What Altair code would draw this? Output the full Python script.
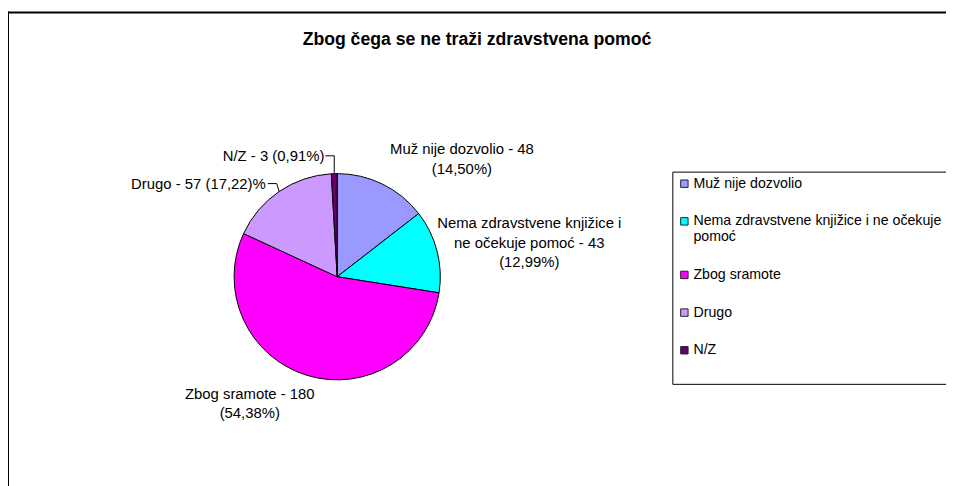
import altair as alt
import pandas as pd

# ---- data -------------------------------------------------------------
categories = [
    "Muž nije dozvolio",
    "Nema zdravstvene knjižice i ne očekuje pomoć",
    "Zbog sramote",
    "Drugo",
    "N/Z",
]
counts = [48, 43, 180, 57, 3]
label_texts = [
    "Muž nije dozvolio - 48\n(14,50%)",
    "Nema zdravstvene knjižice i\nne očekuje pomoć - 43\n(12,99%)",
    "Zbog sramote - 180\n(54,38%)",
    "Drugo - 57 (17,22)%",
    "N/Z - 3 (0,91%)",
]
colors = ["#9999FF", "#00FFFF", "#FF00FF", "#CC99FF", "#660066"]
title_text = "Zbog čega se ne traži zdravstvena pomoć"

df = pd.DataFrame({"cat": categories, "value": counts, "label": label_texts,
                   "idx": list(range(len(categories)))})
TOTAL = sum(counts)

# ---- layout (style only) ---------------------------------------------
FONT = "Liberation Sans"
FS = 15
CX, CY, R = 332, 269, 104
label_layout = {  # dx, dy (first line), align relative to slice edge at mid-angle
    "Muž nije dozvolio": (80, -35, "center"),
    "Nema zdravstvene knjižice i ne očekuje pomoć": (93, -28, "center"),
    "Zbog sramote": (-58, 18.5, "center"),
    "Drugo": (-13.5, -8, "right"),
    "N/Z": (-10, -18, "right"),
}
leader_layout = {  # elbow dx, elbow dy, end dx
    "Drugo": (-2.4, -8, -11.4),
    "N/Z": (0, -18, -9),
}

base = (
    alt.Chart(df)
    .transform_window(cum="sum(value)", sort=[alt.SortField("idx")], frame=[None, 0])
    .transform_calculate(mid="datum.cum - datum.value / 2")
    .transform_calculate(ang=f"datum.mid / {TOTAL} * 2 * PI")
    .transform_calculate(ex=f"{CX} + {R} * sin(datum.ang)",
                         ey=f"{CY} - {R} * cos(datum.ang)")
)

legend = alt.Legend(
    orient="none", legendX=670, legendY=163, title=" ", titleOrient="bottom",
    titleFontSize=8, titlePadding=14,
    symbolType="square", symbolSize=56, symbolStrokeColor="#222222",
    symbolStrokeWidth=1, labelFont=FONT, labelFontSize=14.3, labelLimit=1000,
    rowPadding=23, padding=5, strokeColor="black", fillColor="white",
    labelOffset=2,
    labelExpr="datum.label == '" + categories[1] +
              "' ? ['Nema zdravstvene knjižice i ne očekuje', 'pomoć'] : datum.label",
)

pie = alt.Chart(df).mark_arc(outerRadius=R, stroke="black", strokeWidth=1).encode(
    theta=alt.Theta("value:Q", stack=True),
    order=alt.Order("idx:Q"),
    color=alt.Color("cat:N", scale=alt.Scale(domain=categories, range=colors),
                    legend=legend),
    x=alt.value(CX),
    y=alt.value(CY),
)

layers = []
one = pd.DataFrame({"f": [0]})
frame_top = alt.Chart(one).mark_rule(color="black", strokeWidth=2).encode(
    x=alt.value(0), x2=alt.value(3000), y=alt.value(2.5))
frame_left = alt.Chart(one).mark_rule(color="black", strokeWidth=2).encode(
    x=alt.value(0), y=alt.value(1.5), y2=alt.value(3000))
layers += [frame_top, frame_left, pie]

for cat, (dx, dy, align) in label_layout.items():
    t = base.transform_filter(alt.datum.cat == cat).mark_text(
        dx=dx, dy=dy, align=align, baseline="middle", lineBreak="\n",
        lineHeight=19.5, fontSize=FS, font=FONT, color="black"
    ).encode(
        x=alt.X("ex:Q", scale=None, axis=None),
        y=alt.Y("ey:Q", scale=None, axis=None),
        text="label:N",
    )
    layers.append(t)

for cat, (bx, by, tx) in leader_layout.items():
    d = base.transform_filter(alt.datum.cat == cat).transform_calculate(
        bx=f"datum.ex + {bx}", by=f"datum.ey + {by}", tx=f"datum.ex + {tx}"
    )
    r1 = d.mark_rule(color="black", strokeWidth=1).encode(
        x=alt.X("ex:Q", scale=None, axis=None), y=alt.Y("ey:Q", scale=None, axis=None),
        x2="bx:Q", y2="by:Q")
    r2 = d.mark_rule(color="black", strokeWidth=1).encode(
        x=alt.X("bx:Q", scale=None, axis=None), y=alt.Y("by:Q", scale=None, axis=None),
        x2="tx:Q", y2="by:Q")
    layers += [r1, r2]

chart = alt.layer(*layers).properties(
    width=946, height=478,
    autosize=alt.AutoSizeParams(type="none"),
    padding=0,
    title=alt.TitleParams(title_text, font=FONT, fontSize=17.8, fontWeight="bold",
                          anchor="middle", baseline="middle", offset=0, dy=48, dx=0,
                          color="black"),
).configure(font=FONT, background="white").configure_view(stroke=None)

chart.save("out.html", embed_options={"renderer": "svg", "actions": False})
